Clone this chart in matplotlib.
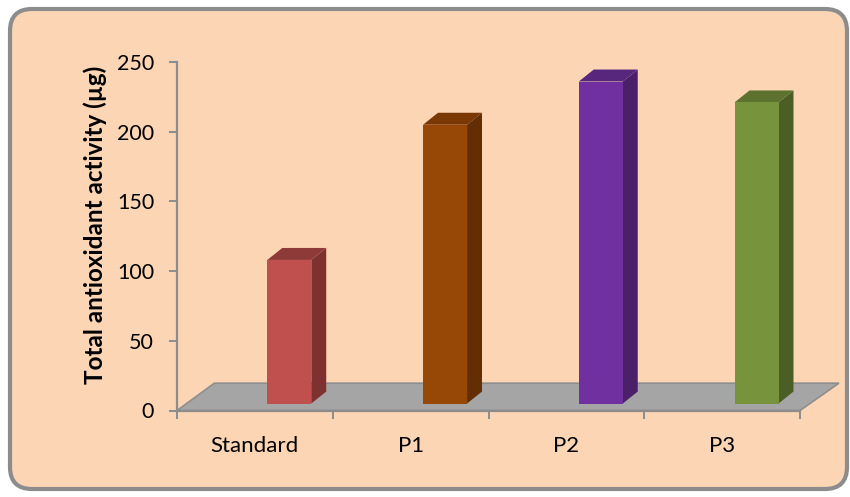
import matplotlib
matplotlib.use("Agg")
import matplotlib.pyplot as plt
from matplotlib.patches import Polygon, FancyBboxPatch
from matplotlib.transforms import IdentityTransform

plt.rcParams['font.family'] = ['Lato', 'DejaVu Sans']

categories = ["Standard", "P1", "P2", "P3"]
values = [103, 200, 231, 216]
y_ticks = [0, 50, 100, 150, 200, 250]

front_colors = ["#C0504D", "#974706", "#7030A0", "#77933C"]
top_colors = ["#8E3A38", "#7A3805", "#57267D", "#5C722E"]
side_colors = ["#7E3230", "#632E04", "#4B2068", "#4B5E25"]

BG = "#FCD5B5"
GRID = "#8C8C8C"

W, H, DPI = 850, 497, 100
fig = plt.figure(figsize=(W / DPI, H / DPI), dpi=DPI)
fig.patch.set_facecolor("white")

# rounded chart-area frame (pixel coordinates)
frame = FancyBboxPatch((10, 8), 837, 480,
                       boxstyle="round,pad=0,rounding_size=22",
                       transform=IdentityTransform(),
                       facecolor=BG, edgecolor=GRID, linewidth=3.0,
                       zorder=-5)
fig.patches.append(frame)

x0, x1 = 177, 800
y0, y1 = 410.5, 62
ax = fig.add_axes([x0 / W, 1 - y0 / H, (x1 - x0) / W, (y0 - y1) / H])
ax.set_zorder(2)
ax.set_facecolor("none")
ax.set_xlim(0, 4)
ax.set_ylim(0, 250)

# 3D-look parameters in data units
floor_dx, floor_dy = 0.25, 19.6
bar_dx, bar_dy = 0.096, 8.6
bar_base = 5.0
bar_w = 0.2825
bar_shift = 0.221

# floor
floor = Polygon([(0, 0), (4.0, 0), (4.0 + floor_dx, floor_dy), (floor_dx - 0.01, floor_dy)],
                closed=True, facecolor="#A5A5A5", edgecolor="#8E8E8E",
                linewidth=1.2, clip_on=False, zorder=1)
ax.add_patch(floor)

centers = [i + 0.5 for i in range(len(categories))]
xs = [c + bar_shift for c in centers]
ax.bar(xs, values, width=bar_w, bottom=bar_base, color=front_colors,
       edgecolor="none", zorder=4, clip_on=False)

for x, v, tc, sc in zip(xs, values, top_colors, side_colors):
    left = x - bar_w / 2
    right = x + bar_w / 2
    top = bar_base + v
    side = Polygon([(right, bar_base), (right + bar_dx, bar_base + bar_dy),
                    (right + bar_dx, top + bar_dy), (right, top)],
                   closed=True, facecolor=sc, edgecolor="none",
                   zorder=3, clip_on=False)
    roof = Polygon([(left, top), (left + bar_dx, top + bar_dy),
                    (right + bar_dx, top + bar_dy), (right, top)],
                   closed=True, facecolor=tc, edgecolor="none",
                   zorder=3, clip_on=False)
    ax.add_patch(side)
    ax.add_patch(roof)

for s in ["top", "right"]:
    ax.spines[s].set_visible(False)
for s in ["left", "bottom"]:
    ax.spines[s].set_color(GRID)
    ax.spines[s].set_linewidth(1.6)
    ax.spines[s].set_zorder(2)

ax.set_yticks(y_ticks)
ax.set_yticklabels([str(t) for t in y_ticks])
ax.tick_params(axis="y", length=5.5, width=1.4, color=GRID, pad=11,
               labelsize=15.5, labelcolor="black")

ax.set_xticks([0, 1, 2, 3, 4])
ax.set_xticklabels([])
ax.tick_params(axis="x", which="major", length=6, width=1.4, color=GRID)
ax.set_xticks(centers, minor=True)
ax.set_xticklabels(categories, minor=True)
ax.tick_params(axis="x", which="minor", length=0, pad=18,
               labelsize=16, labelcolor="black")

fig.text(95 / W, 1 - 225 / H, "Total antioxidant activity (µg)",
         rotation=90, ha="center", va="center", fontsize=17.5,
         fontweight="bold", color="black")

fig.savefig("out.png", dpi=DPI, facecolor=fig.get_facecolor())
